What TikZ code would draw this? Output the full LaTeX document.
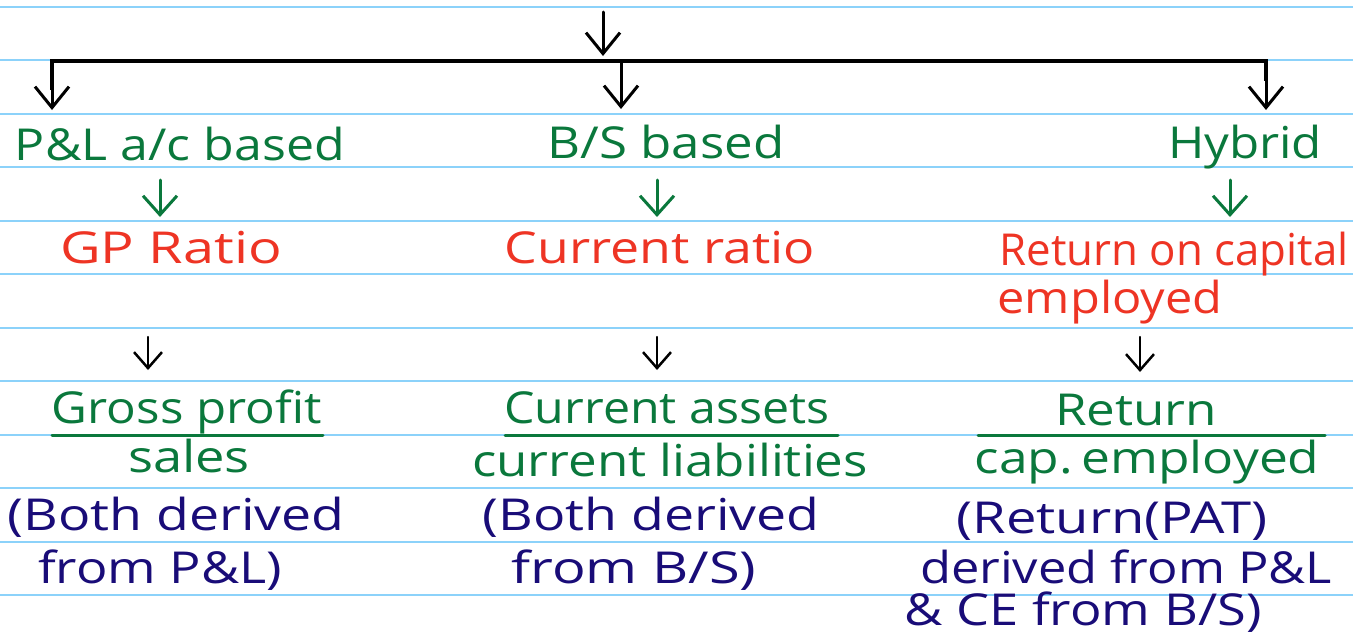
\documentclass[tikz,border=0pt]{standalone}
\usepackage{fontspec}
\setmainfont{Open Sans}
\usetikzlibrary{arrows.meta}
\definecolor{paper}{RGB}{140,210,250}
\definecolor{hgreen}{RGB}{10,120,60}
\definecolor{hred}{RGB}{238,52,36}
\definecolor{hnavy}{RGB}{25,12,120}
\newcommand\fw[2]{\resizebox{#1pt}{\height}{#2}}
\begin{document}
\begin{tikzpicture}[x=1pt,y=-1pt,
  txt/.style={inner sep=0pt, anchor=base, font=\fontsize{44}{48}\selectfont},
  gtxt/.style={txt,text=hgreen},
  rtxt/.style={txt,text=hred},
  ntxt/.style={txt,text=hnavy},
  ruling/.style={draw=paper,line width=2pt},
  bigarr/.style={draw=black,line width=3pt,line cap=round,-{Straight Barb[length=21pt,width=34pt]}},
  garr/.style={draw=hgreen,line width=3pt,line cap=round,-{Straight Barb[length=19pt,width=34pt]}},
  karr/.style={draw=black,line width=2.5pt,line cap=round,-{Straight Barb[length=16pt,width=28pt]}},
  fracline/.style={draw=hgreen,line width=3pt,line cap=round}]
\useasboundingbox (0,0) rectangle (1353,637);
\fill[white] (0,0) rectangle (1353,637);
% ruled paper
\foreach \k in {0,...,11}{
  \draw[ruling] (0,{7+53.45*\k}) -- (1353,{7+53.45*\k});
}
% top split
\coordinate (top) at (603,12);
\coordinate (split) at (603,56);
\coordinate (j1) at (52,61);
\coordinate (j2) at (621,61);
\coordinate (j3) at (1266,61);
\coordinate (e1) at (52,110);
\coordinate (e2) at (621,109);
\coordinate (e3) at (1266,110);
\draw[bigarr] (top) -- (split);
\draw[black,line width=3.5pt,line join=miter] (e1) ++(0,-20) -- (j1) -- (j3) -- ++(0,20);
\draw[bigarr] (j1) -- (e1);
\draw[bigarr] (j2) -- (e2);
\draw[bigarr] (j3) -- (e3);
% headings
\node[gtxt] (pl) at (180,160) {\fw{330}{P\&L a/c based}};
\node[gtxt] (bs) at (666,158) {\fw{237}{B/S based}};
\node[gtxt] (hy) at (1245,158) {\fw{154}{Hybrid}};
% ratios
\node[rtxt] (gp) at (171,263) {\fw{222}{GP Ratio}};
\node[rtxt] (cr) at (660,263) {\fw{310}{Current ratio}};
\node[rtxt] (roc) at (1174,265) {\fw{349}{Return on capital}};
\node[rtxt] (emp) at (1110,313) {\fw{225}{employed}};
% green arrows
\draw[garr] ([shift={(-20,20)}]pl.base) -- ++(0,37);
\draw[garr] ([shift={(-9,22)}]bs.base) -- ++(0,37);
\draw[garr] ([shift={(-15,22)}]hy.base) -- ++(0,37);
% black small arrows
\draw[karr] ([shift={(-23,74)}]gp.base) -- ++(0,33);
\draw[karr] ([shift={(-3,74)}]cr.base) -- ++(0,33);
\draw[karr] ([shift={(30,24)}]emp.base) -- ++(0,35);
% fractions
\node[gtxt] (gpn) at (187,423) {\fw{270}{Gross profit}};
\node[gtxt] (gpd) at (189,472) {\fw{122}{sales}};
\draw[fracline] (52,435) -- (323,435);
\node[gtxt] (crn) at (667,423) {\fw{325}{Current assets}};
\node[gtxt] (crd) at (670,476) {\fw{396}{current liabilities}};
\draw[fracline] (505,435) -- (838,435);
\node[gtxt] (rcn) at (1136,425) {\fw{162}{Return}};
\node[gtxt] (rcd) at (1147,473) {\fw{345}{cap.\,employed}};
\draw[fracline] (978,435) -- (1325,435);
% notes
\node[ntxt] (n1a) at (176,530) {\fw{337}{(Both derived}};
\node[ntxt] (n1b) at (160,583) {\fw{244}{from P\&L)}};
\node[ntxt] (n2a) at (651,530) {\fw{337}{(Both derived}};
\node[ntxt] (n2b) at (634,583) {\fw{245}{from B/S)}};
\node[ntxt] (n3a) at (1112,533) {\fw{311}{(Return(PAT)}};
\node[ntxt] (n3b) at (1126,583) {\fw{412}{derived from P\&L}};
\node[ntxt] (n3c) at (1083,625) {\fw{357}{\& CE from B/S)}};
\end{tikzpicture}
\end{document}
